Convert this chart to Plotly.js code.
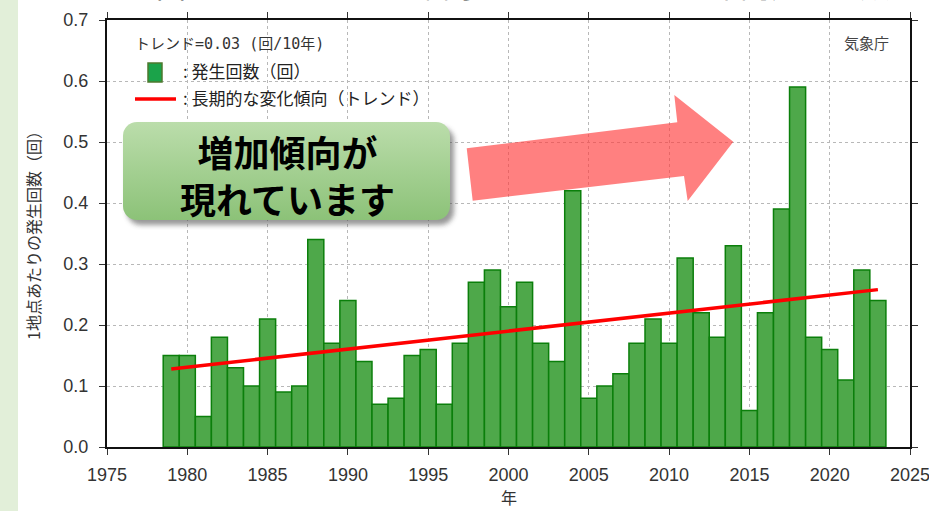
<!DOCTYPE html>
<html><head><meta charset="utf-8">
<script src="https://cdn.plot.ly/plotly-3.0.1.min.js"></script>
<style>html,body{margin:0;padding:0;background:#fff;overflow:hidden}#chart{width:929px;height:511px}</style>
</head><body><div id="chart"></div>
<script>
// ---- data ----
const years = [1979,1980,1981,1982,1983,1984,1985,1986,1987,1988,1989,1990,1991,1992,1993,1994,1995,1996,1997,1998,1999,2000,2001,2002,2003,2004,2005,2006,2007,2008,2009,2010,2011,2012,2013,2014,2015,2016,2017,2018,2019,2020,2021,2022,2023];
const counts = [0.15,0.15,0.05,0.18,0.13,0.10,0.21,0.09,0.10,0.34,0.17,0.24,0.14,0.07,0.08,0.15,0.16,0.07,0.17,0.27,0.29,0.23,0.27,0.17,0.14,0.42,0.08,0.10,0.12,0.17,0.21,0.17,0.31,0.22,0.18,0.33,0.06,0.22,0.39,0.59,0.18,0.16,0.11,0.29,0.24];
const trendYears = [1979, 2023];
const trendValues = [0.128, 0.258];
const xTickVals = [1975,1980,1985,1990,1995,2000,2005,2010,2015,2020,2025];
const yTickVals = [0,0.1,0.2,0.3,0.4,0.5,0.6,0.7];
const yTickText = ['0.0','0.1','0.2','0.3','0.4','0.5','0.6','0.7'];
const trendLabel = 'トレンド=0.03 (回/10年)';
const barLabel = ': 発生回数（回）';
const trendLineLabel = ': 長期的な変化傾向（トレンド）';
const yTitle = '1地点あたりの発生回数（回）';
const xTitle = '年';
const sourceLabel = '気象庁';
const calloutLines = ['増加傾向が', '現れています'];
const cutTitle = '全国（アメダス）の日降水量200mm以上の年間発生回数';

// ---- layout helpers (pixel -> paper) ----
const W = 929, H = 511, L = 107, R = 19, T = 20, B = 64;
const PW = W - L - R, PH = H - T - B;
const px = x => (x - L) / PW;
const py = y => (H - B - y) / PH;

const sans = 'Liberation Sans, Arial, sans-serif';
const jp = 'Noto Sans CJK JP, sans-serif';

const boxSvg = "<svg xmlns='http://www.w3.org/2000/svg' width='340' height='110' viewBox='0 0 340 110'>" +
 "<defs><linearGradient id='g' x1='0' y1='0' x2='0' y2='1'><stop offset='0' stop-color='#bbddab'/><stop offset='1' stop-color='#8cc278'/></linearGradient>" +
 "<filter id='s' x='-10%' y='-10%' width='130%' height='140%'><feGaussianBlur stdDeviation='2.5'/></filter></defs>" +
 "<rect x='6' y='7' width='327' height='98' rx='14' fill='#444' opacity='0.55' filter='url(#s)'/>" +
 "<rect x='2' y='2' width='327' height='98' rx='14' fill='url(#g)'/></svg>";

const arrowPts = [[466.7,148.3],[677.3,122.3],[674.3,95],[733.3,141.7],[687.7,201],[684,176],[472.7,200.7]];
const arrowPath = 'M ' + arrowPts.map(p => px(p[0]).toFixed(5) + ',' + py(p[1]).toFixed(5)).join(' L ') + ' Z';

const traces = [
  {type:'bar', x:years, y:counts, width:1,
   marker:{color:'#4ea84a', line:{color:'#0b7f0b', width:1.5}}, hoverinfo:'x+y'},
  {type:'scatter', mode:'lines', x:trendYears, y:trendValues,
   line:{color:'#ff0000', width:3.5}}
];

const axisCommon = {
  ticks:'outside', ticklen:6, tickcolor:'#333', tickwidth:1,
  showline:true, linecolor:'#111', linewidth:2, mirror:'allticks',
  showgrid:true, gridcolor:'#b8b8b8', griddash:'dot', gridwidth:1,
  zeroline:false, tickfont:{family:sans, size:18, color:'#333'},
  ticklabeloverflow:'allow'
};

const layout = {
  width:W, height:H, margin:{l:L, r:R, t:T, b:B},
  paper_bgcolor:'#fff', plot_bgcolor:'#fff', showlegend:false, bargap:0,
  xaxis:Object.assign({}, axisCommon, {range:[1975,2025], tickvals:xTickVals, ticklabelstandoff:4}),
  yaxis:Object.assign({}, axisCommon, {range:[0,0.7], tickvals:yTickVals, ticktext:yTickText, ticklabelstandoff:7}),
  shapes:[
    {type:'rect', xref:'paper', yref:'paper', x0:px(0), x1:px(18), y0:py(H), y1:py(0),
     fillcolor:'#e2efd9', line:{width:0}, layer:'below'},
    {type:'path', xref:'paper', yref:'paper', path:arrowPath,
     fillcolor:'rgba(255,60,60,0.65)', line:{width:0}, layer:'above'},
    {type:'rect', xref:'paper', yref:'paper', x0:px(148), x1:px(162), y0:py(82), y1:py(63),
     fillcolor:'#1ba34a', line:{color:'#4e7a2e', width:1.5}, layer:'above'},
    {type:'line', xref:'paper', yref:'paper', x0:px(135), x1:px(176), y0:py(99), y1:py(99),
     line:{color:'#ff0000', width:3.5}, layer:'above'}
  ],
  images:[
    {source:'data:image/svg+xml;charset=utf-8,' + encodeURIComponent(boxSvg),
     xref:'paper', yref:'paper', x:px(121), y:py(120), sizex:340/PW, sizey:110/PH,
     xanchor:'left', yanchor:'top', sizing:'stretch', layer:'above'}
  ],
  annotations:[
    {xref:'paper', yref:'paper', x:px(508), y:py(8), xanchor:'center', yanchor:'bottom', showarrow:false,
     text:cutTitle, font:{family:jp, size:30, color:'#333'}},
    {xref:'paper', yref:'paper', x:px(133), y:py(44), xanchor:'left', yanchor:'middle', showarrow:false,
     text:trendLabel, font:{family:'DejaVu Sans Mono, Noto Sans CJK JP, monospace', size:15, color:'#333'}},
    {xref:'paper', yref:'paper', x:px(181), y:py(70), xanchor:'left', yanchor:'middle', showarrow:false,
     text:barLabel, font:{family:jp, size:17, color:'#222'}},
    {xref:'paper', yref:'paper', x:px(181), y:py(98), xanchor:'left', yanchor:'middle', showarrow:false,
     text:trendLineLabel, font:{family:jp, size:17, color:'#222'}},
    {xref:'paper', yref:'paper', x:px(866), y:py(43), xanchor:'center', yanchor:'middle', showarrow:false,
     text:sourceLabel, font:{family:jp, size:15, color:'#444'}},
    {xref:'paper', yref:'paper', x:px(287), y:py(175), xanchor:'center', yanchor:'middle', showarrow:false,
     text:'<b>' + calloutLines[0] + '<br>' + calloutLines[1] + '</b>', font:{family:jp, size:36, color:'#000'}},
    {xref:'paper', yref:'paper', x:px(33), y:py(232), xanchor:'center', yanchor:'middle', showarrow:false,
     textangle:-90, text:yTitle, font:{family:jp, size:16, color:'#333'}},
    {xref:'paper', yref:'paper', x:px(509), y:py(497), xanchor:'center', yanchor:'middle', showarrow:false,
     text:xTitle, font:{family:jp, size:16, color:'#333'}}
  ]
};

Plotly.newPlot('chart', traces, layout, {staticPlot:true, displayModeBar:false});
</script></body></html>
